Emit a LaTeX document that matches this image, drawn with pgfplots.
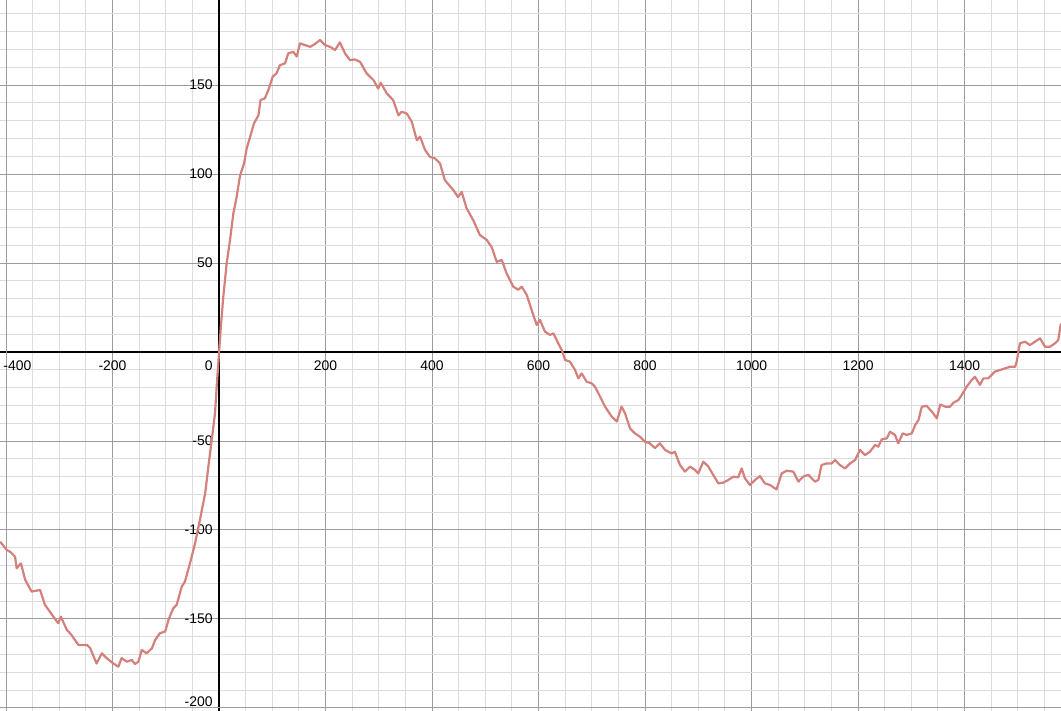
\documentclass[border=0pt]{standalone}
\usepackage{fontspec}
\setmainfont{Liberation Sans}
\usepackage{pgfplots}
\pgfplotsset{compat=1.18}
\definecolor{curve}{HTML}{D4807C}
\definecolor{majorg}{HTML}{9C9C9C}
\definecolor{minorg}{HTML}{DCDCDC}
\begin{document}
\begin{tikzpicture}
\begin{axis}[
 scale only axis, width=530.5bp, height=355.5bp,
 xmin=-411.3, xmax=1581.2, ymin=-201.7, ymax=197.8,
 axis lines=middle, axis line style={-, black, line width=0.7bp},
 xtick={-200,0,...,1400}, ytick={-150,-100,...,150},
 extra x ticks={-400},
 extra x tick style={grid=major, xticklabel style={anchor=north west, xshift=-1.5bp}},
 extra y ticks={-200},
 extra y tick style={grid=major, yticklabel style={anchor=south east, yshift=0.5bp}},
 minor xtick={-350,-300,...,1550}, minor ytick={-190,-180,...,190},
 grid=both,
 major grid style={majorg, line width=0.5bp},
 minor grid style={minorg, line width=0.5bp},
 major tick length=0pt, minor tick length=0pt,
 tick label style={font=\fontsize{7}{8}\selectfont, inner sep=0pt},
 /pgf/number format/assume math mode=true,
 /pgf/number format/set thousands separator={},
 xticklabel style={anchor=north, yshift=-4bp},
 yticklabel style={anchor=east, xshift=-3bp},
 clip=true,
]
\addplot[curve, line width=1.1bp, line join=round, no marks] coordinates {
(-411,-106.6) (-398.7,-111.2) (-392.5,-112.2) (-383,-115) (-380,-121.5) (-372,-118.7)
(-364,-128) (-352,-134.6) (-336,-133.7) (-327,-142) (-311,-148.7) (-302,-152.4)
(-297,-148.7) (-286,-156) (-277,-159) (-264,-164.6) (-248,-164.6) (-242,-166.3)
(-230,-175) (-220,-169.3) (-211,-172) (-198.5,-175) (-189,-176.8) (-183,-172)
(-173,-174) (-164,-173) (-158,-175.3) (-151.5,-174) (-145,-167.4) (-136,-169.3)
(-126,-166.5) (-120,-161.8) (-111,-158) (-101,-157) (-95,-150.6) (-86,-144)
(-79.4,-142) (-70,-131.8) (-64,-129) (-54.5,-118.7) (-45,-107.5) (-37,-96)
(-26,-79.4) (-20,-64.4) (-13.7,-49.4) (-7.5,-34.4) (-4.4,-19.5) (0,-0.7)
(3,12.4) (8,31) (14.4,49.8) (20.7,63) (27,78) (33,87) (39.4,99) (47,106)
(52,114.4) (59.5,122) (65.7,128.5) (74,133) (78,141.6) (86,142.5) (92.7,147.2)
(100.8,154.7) (108,156.6) (114.5,161.2) (124,162.2) (130,167.8) (139.5,168.7)
(146,166) (152,173.4) (161.5,172.5) (171,171.5) (180,173) (189.7,175.3)
(199,172.5) (208.5,171.5) (218,169.7) (227,174) (236.6,167.8) (246,164)
(255,164.4) (265,163) (277,156.6) (290,152.8) (299,148) (303.6,151.3)
(315,145.3) (327,141.6) (337,133) (343,135) (352.5,134) (362,129.4)
(371.5,119) (377.5,121) (387,113.5) (396,109.7) (405.6,108.8) (415,106)
(424,96.6) (440,91) (449,87) (455.7,90) (465,80.7) (477.6,74) (490,65.7)
(502.7,63) (512,59) (521.5,50.7) (531,51.7) (540,44.2) (552.7,36.7) (562,35)
(568.5,36.7) (578,32) (587,23.6) (596.6,15.2) (602.8,18) (612,11.5) (621.6,9.6)
(628,10.5) (637,4.9) (643.6,1.1) (650,-4.5) (659,-5.4) (668.5,-10) (674.7,-14.8)
(681,-12) (690.5,-16.7) (700,-17.6) (706,-19.5) (715.5,-25) (725,-30.7)
(737.5,-36.3) (747,-39) (756,-30.7) (762.4,-34.4) (772,-43) (781,-45.7)
(790.6,-47.6) (800,-50.4) (809,-51.3) (818.8,-54) (828,-51.3) (837.6,-55)
(850,-57) (856,-56) (865.7,-63.5) (875,-67.2) (884.5,-64.4) (894,-66.3)
(900,-68.2) (909.5,-61.6) (919,-64.4) (928,-69) (937.7,-73.8) (947,-73.4)
(956.4,-71.9) (966,-70) (975,-70.4) (981.5,-65.4) (987.8,-71) (997,-74.7)
(1006.6,-71.9) (1016,-69.7) (1025,-73.8) (1034.7,-74.7) (1047,-77.2)
(1056.6,-68.2) (1066,-66.7) (1078.5,-67.2) (1088,-72.8) (1097,-70) (1106.7,-69)
(1119,-72.8) (1125.5,-71.9) (1131.5,-63.5) (1141,-62.6) (1150.6,-62.6)
(1157,-60.7) (1166,-63.5) (1175.6,-65.4) (1185,-62.6) (1194.4,-60.7)
(1203.8,-55) (1213,-57.9) (1222.5,-56) (1232,-52.2) (1238,-53.2) (1244.4,-49.1)
(1254,-48.5) (1260,-44.8) (1269.5,-46.6) (1275.5,-51.3) (1284,-45.7)
(1291.5,-46.6) (1301,-45.7) (1307.5,-41) (1313.6,-38.2) (1319.8,-30.7)
(1329,-30.3) (1338.7,-33.5) (1348,-37.3) (1354.5,-29.5) (1363.8,-30.7)
(1373,-30.7) (1379,-28.5) (1388.4,-27) (1394.7,-24.2) (1404,-19.5)
(1413.5,-15.7) (1419.7,-13.9) (1429,-18.5) (1435.3,-14.8) (1444.6,-14.8)
(1457,-11) (1466.7,-10.1) (1476,-9.2) (1485.4,-8.3) (1495,-8.3) (1498,-5.4)
(1504,4.9) (1513.6,5.8) (1523,3.9) (1532.4,5.8) (1541.8,7.7) (1551,3)
(1560.6,3) (1570,4.9) (1576,6.7) (1581,16)
};
\node[anchor=north east, inner sep=0pt, font=\fontsize{7}{8}\selectfont, xshift=-3bp, yshift=-4bp] at (axis cs:0,0) {0};
\coordinate (SW) at (rel axis cs:0,0);
\coordinate (NE) at (rel axis cs:1,1);
\end{axis}
\pgfresetboundingbox
\useasboundingbox (SW) rectangle (NE);
\end{tikzpicture}
\end{document}
